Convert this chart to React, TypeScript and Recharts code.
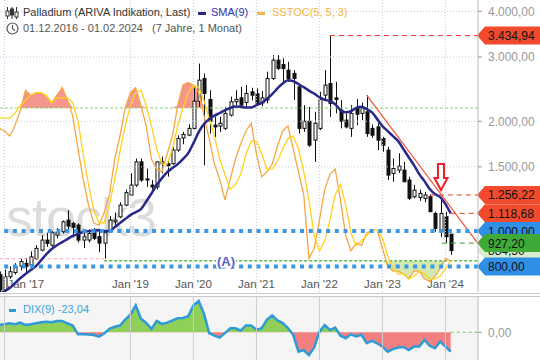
import React from "react";
import {
  ComposedChart,
  Bar,
  Line,
  Area,
  XAxis,
  YAxis,
  ReferenceLine,
  ReferenceDot,
} from "recharts";

const FONT = '"Liberation Sans", Arial, sans-serif';
const PLOT_RIGHT = 478;
const X_DOMAIN: [number, number] = [0.152, 91.2];

// monthly candles, Dec 2016 (0) .. Feb 2024 (86)
const openV = [
  760, 690, 750, 770, 802, 816, 807, 840, 887, 945,
  915, 975, 996, 1072, 1050, 1039, 945, 945, 990, 966,
  927, 996, 1061, 1094, 1178, 1255, 1337, 1548, 1390, 1337,
  1322, 1530, 1530, 1530, 1667, 1800, 1832, 1912, 2270, 2620,
  2295, 1952, 1940, 1912, 2079, 2262, 2318, 2252, 2408, 2380,
  2246, 2290, 2620, 2941, 2860, 2761, 2705, 2485, 1912, 2000,
  1775, 1912, 2358, 2538, 2318, 2145, 2014, 1912, 2170, 2102,
  2122, 1912, 1930, 1793, 1667, 1439, 1469, 1469, 1380, 1242,
  1236, 1229, 1242, 1118, 996, 1095, 981,
];
const highV = [
  775, 785, 800, 817, 840, 845, 880, 915, 975, 990,
  1000, 1020, 1070, 1141, 1061, 1050, 1006, 1010, 1020, 1000,
  1000, 1100, 1125, 1200, 1300, 1441, 1581, 1581, 1484, 1380,
  1548, 1600, 1565, 1702, 1830, 1870, 1960, 2480, 2877, 2705,
  2434, 2057, 2057, 2190, 2335, 2434, 2485, 2512, 2470, 2460,
  2420, 2735, 3035, 3035, 2975, 2910, 2761, 2512, 2214, 2190,
  2122, 2408, 2761, 3434.94, 2565, 2285, 2102, 2214, 2300, 2250,
  2358, 1960, 1975, 1812, 1702, 1581, 1635, 1548, 1409, 1337,
  1300, 1280, 1256.22, 1130, 1240, 1130, 981,
];
const lowV = [
  675, 685, 740, 760, 780, 765, 795, 835, 880, 905,
  905, 955, 985, 996, 960, 930, 899, 930, 945, 875,
  840, 990, 1040, 1085, 1170, 1255, 1322, 1365, 1322, 1300,
  1300, 1440, 1410, 1520, 1650, 1730, 1820, 1900, 2190, 1516,
  1850, 1810, 1870, 1891, 2060, 2214, 2190, 2190, 2280, 2214,
  2200, 2238, 2592, 2761, 2565, 2565, 2285, 1850, 1870, 1702,
  1548, 1891, 2295, 2057, 2102, 1912, 1912, 1812, 1950, 2014,
  1812, 1800, 1667, 1650, 1380, 1365, 1443, 1365, 1216, 1230,
  1210, 1200, 1130, 996, 963, 927.2, 860,
];
const closeV = [
  690, 750, 774, 800, 825, 800, 850, 897, 945, 925,
  990, 990, 1061, 1032, 1024, 945, 965, 985, 955, 927,
  990, 1072, 1072, 1178, 1275, 1337, 1548, 1380, 1380, 1322,
  1548, 1548, 1510, 1667, 1793, 1840, 1912, 2270, 2592, 2383,
  2000, 1930, 1975, 2102, 2262, 2295, 2214, 2383, 2358, 2240,
  2318, 2620, 2941, 2790, 2790, 2620, 2620, 1912, 2000, 1720,
  1975, 2295, 2512, 2238, 2295, 2000, 1930, 2102, 2090, 2170,
  1850, 1832, 1775, 1720, 1424, 1484, 1506, 1365, 1230, 1295,
  1269, 1256, 1130, 1017, 1118, 965, 884.5,
];
const smaV = [
  672, 684, 698, 720, 743, 763, 782, 802, 833, 865,
  893, 915, 933, 951, 970, 982, 994, 1000, 1003, 1006,
  1000, 1000, 1025, 1052, 1079, 1106, 1127, 1149, 1205, 1268,
  1337, 1397, 1451, 1488, 1526, 1575, 1636, 1742, 1868, 1964,
  2027, 2072, 2107, 2145, 2175, 2195, 2190, 2180, 2182, 2214,
  2245, 2303, 2373, 2462, 2538, 2592, 2575, 2528, 2480, 2426,
  2380, 2328, 2291, 2270, 2227, 2145, 2116, 2130, 2175, 2190,
  2160, 2116, 2027, 1940, 1880, 1821, 1764, 1677, 1594, 1516,
  1433, 1371, 1304, 1263, 1239, 1186, 1118.68,
];
// SSTOC(5, 5, 3): orange and yellow lines
const stochK = [
  72, 71, 69, 73, 79, 87, 85, 86, 86, 84,
  82, 85, 88, 83, 77, 64, 52, 42, 35, 34,
  39, 46, 60, 69, 80, 86, 88, 81, 73, 60,
  56, 55, 62, 69, 81, 89, 90, 89, 86, 77,
  68, 58, 52, 44, 52, 60, 66, 71, 74, 62,
  53, 55, 58, 65, 71, 73, 64, 55, 46, 21,
  25, 36, 48, 54, 56, 44, 30, 24, 27, 26,
  31, 32, 32, 25, 18, 16, 16, 15, 13, 16,
  16, 13, 12, 14, 17, 21, 20,
];
const stochD = [
  76, 76, 76, 78, 81, 83, 85, 86, 86, 85,
  82, 84, 84, 84, 82, 75, 62, 50, 40, 35,
  35, 42, 52, 63, 73, 81, 86, 87, 81, 73,
  64, 58, 58, 64, 73, 80, 86, 89, 88, 83,
  76, 69, 60, 54, 48, 50, 54, 62, 67, 67,
  62, 56, 56, 59, 64, 68, 69, 64, 55, 44,
  30, 24, 28, 36, 46, 50, 42, 31, 26, 28,
  30, 32, 32, 29, 22, 17, 15, 15, 13, 14,
  16, 15, 13, 13, 14, 17, 20,
];
const dixV = [
  8.7, 9.5, 10.7, 9.5, 11.4, 8.7, 9.5, 10.7, 12, 12.6,
  11.9, 13.4, 13.4, 10.7, 8, -2.4, -2.4, -2.6, -3.2, -5.2,
  -1.5, 4, 6.6, 8, 15, 21, 32, 16, 11, 4,
  13.4, 10, 11.5, 14, 16.8, 17, 19, 32, 37, 22,
  -1, -4, -6.4, -1, 4.7, 4.7, 2, 8, 8, 3,
  5, 15, 20, 14, 11, 5, -3, -23, -21, -27,
  -18, 0.7, 8.5, 2.7, 5.5, -4, -7, -2.4, -5, -3,
  -13, -10.3, -13, -17, -23, -20, -18, -17.5, -21, -17,
  -17, -9, -16, -19, -11, -17, -23.04,
];

const yearTicks = [1, 25, 37, 49, 61, 73, 85];
const yearLabels = ["Jan '17", "Jan '19", "Jan '20", "Jan '21", "Jan '22", "Jan '23", "Jan '24"];
const priceTicks = [1500, 2000, 3000, 4000];

const data = openV.map((o, i) => ({
  i,
  open: o,
  high: highV[i],
  low: lowV[i],
  close: closeV[i],
  sma: smaV[i],
  k: stochK[i],
  d: stochD[i],
  dix: dixV[i],
}));

const fmt = (v: number) => {
  const [a, b] = v.toFixed(2).split(".");
  return a.replace(/\B(?=(\d{3})+(?!\d))/g, ".") + "," + b;
};

function Candle(props: any) {
  const { x, y, width, height, payload } = props;
  if (x == null || y == null) return null;
  const lh = Math.log(payload.high);
  const ll = Math.log(payload.low);
  const span = lh - ll || 1;
  const py = (v: number) => y + ((lh - Math.log(v)) / span) * height;
  const cx = Math.round(x + width / 2) + 0.5;
  const up = payload.close >= payload.open;
  const top = py(Math.max(payload.open, payload.close));
  const bot = py(Math.min(payload.open, payload.close));
  return (
    <g>
      <line x1={cx} x2={cx} y1={y} y2={y + height} stroke="#111" strokeWidth={1} />
      <rect
        x={cx - 1.5}
        y={top}
        width={3}
        height={Math.max(bot - top, 1)}
        fill={up ? "#fff" : "#111"}
        stroke="#111"
        strokeWidth={1}
      />
    </g>
  );
}

function PriceTag(props: any) {
  const { viewBox, text, bg } = props;
  const y = viewBox.y;
  const x = PLOT_RIGHT;
  return (
    <g>
      <path
        d={`M${x - 1},${y} L${x + 7},${y - 9} L540,${y - 9} L540,${y + 9} L${x + 7},${y + 9} Z`}
        fill={bg}
      />
      <text x={x + 10} y={y + 4.5} fontSize={12} fill="#111" fontFamily={FONT}>
        {text}
      </text>
    </g>
  );
}

function YearLabel(props: any) {
  const { viewBox, text, first } = props;
  return (
    <text
      x={first ? viewBox.x + 3 : viewBox.x}
      y={288}
      textAnchor={first ? "start" : "middle"}
      fontSize={11.5}
      fill="#555"
      fontFamily={FONT}
    >
      {text}
    </text>
  );
}

function DownArrow(props: any) {
  const { cx, cy } = props;
  const d = `M${cx - 3},${cy - 13} L${cx + 3},${cy - 13} L${cx + 3},${cy + 1} L${cx + 6.5},${cy + 1} L${cx},${cy + 13} L${cx - 6.5},${cy + 1} L${cx - 3},${cy + 1} Z`;
  return <path d={d} fill="#fff" stroke="#e8222a" strokeWidth={2} />;
}

function ALabel(props: any) {
  const { cx, cy } = props;
  return (
    <g>
      <rect x={cx - 10} y={cy - 7} width={20} height={14} fill="#fff" />
      <text x={cx} y={cy + 5} textAnchor="middle" fontSize={13} fontWeight="bold" fill="#5a5fd0" fontFamily={FONT}>
        (A)
      </text>
    </g>
  );
}

const tags = [
  { v: 3434.94, bg: "#f24a2c" },
  { v: 1256.22, bg: "#f24a2c" },
  { v: 1118.68, bg: "#f24a2c" },
  { v: 1000, bg: "#2f8fe6" },
  { v: 884.5, bg: "#d9eccf" },
  { v: 927.2, bg: "#3faa38" },
  { v: 800, bg: "#2f8fe6" },
];

export default function App() {
  return (
    <div style={{ position: "absolute", left: 0, top: 0, width: 540, height: 360, background: "#fff", overflow: "hidden", fontFamily: FONT }}>
      <svg width={0} height={0} style={{ position: "absolute" }}>
        <defs>
          <linearGradient id="dixFill" gradientUnits="userSpaceOnUse" x1={0} y1={0} x2={0} y2={65}>
            <stop offset="0" stopColor="#8fd05a" />
            <stop offset="0.5737" stopColor="#8fd05a" />
            <stop offset="0.5737" stopColor="#f28080" />
            <stop offset="1" stopColor="#f28080" />
          </linearGradient>
        </defs>
      </svg>

      {/* watermark */}
      <div style={{ position: "absolute", left: 6, top: 186, fontSize: 54, color: "#dcdcdc", letterSpacing: -1 }}>stock3</div>

      {/* DIX panel background + separator */}
      <div style={{ position: "absolute", left: 0, top: 297, width: PLOT_RIGHT, height: 63, background: "#f5f5f5" }} />
      <div style={{ position: "absolute", left: 0, top: 293, width: 540, height: 2, borderTop: "1px solid #c8c8c8", borderBottom: "1px solid #c8c8c8" }} />

      <div style={{ position: "absolute", left: 0, top: 0 }}>
        <ComposedChart width={540} height={292} data={data} margin={{ top: 0, right: 0, bottom: 0, left: 0 }}>
          <XAxis dataKey="i" type="number" domain={X_DOMAIN} hide allowDataOverflow />
          <YAxis
            orientation="right"
            width={62}
            scale="log"
            type="number"
            domain={[681, 4298]}
            allowDataOverflow
            ticks={priceTicks}
            interval={0}
            tickFormatter={fmt}
            tick={{ fill: "#999", fontSize: 12, fontFamily: FONT }}
            tickSize={4}
            tickMargin={6}
            axisLine={{ stroke: "#bbb" }}
            tickLine={{ stroke: "#999" }}
          />
          <YAxis yAxisId="st" hide type="number" domain={[7.84, 122.35]} allowDataOverflow />

          {yearTicks.map((t, n) => (
            <ReferenceLine
              key={"v" + t}
              x={t}
              stroke="#c5cde2"
              strokeDasharray="1 2"
              label={<YearLabel text={yearLabels[n]} first={n === 0} />}
            />
          ))}
          {priceTicks.map((t) => (
            <ReferenceLine key={"h" + t} y={t} stroke="#c5cde2" strokeDasharray="1 2" />
          ))}
          <ReferenceLine yAxisId="st" y={80} stroke="#8fd17a" strokeDasharray="3 2" />
          <ReferenceLine
            segment={[{ x: X_DOMAIN[0], y: 840 }, { x: 20, y: 840 }]}
            stroke="#f2a8a8"
            strokeDasharray="3 3"
          />
          <ReferenceLine
            segment={[{ x: 20, y: 830 }, { x: X_DOMAIN[1], y: 830 }]}
            stroke="#5cbb4a"
            strokeWidth={1.5}
            strokeDasharray="3 2"
          />

          <Area
            yAxisId="st"
            type="linear"
            dataKey={(p: any) => [80, Math.max(p.k, 80)]}
            fill="#f2837a"
            fillOpacity={0.85}
            stroke="none"
            isAnimationActive={false}
          />
          <Area
            yAxisId="st"
            type="linear"
            dataKey={(p: any) => [Math.min(p.k, 20), 20]}
            fill="#cfe6a6"
            fillOpacity={0.9}
            stroke="none"
            isAnimationActive={false}
          />
          <Line yAxisId="st" type="linear" dataKey="k" stroke="#f7a647" strokeWidth={1.3} dot={false} isAnimationActive={false} />
          <Line yAxisId="st" type="linear" dataKey="d" stroke="#ffd21c" strokeWidth={1.3} dot={false} isAnimationActive={false} />

          <Bar dataKey={(p: any) => [p.low, p.high]} barSize={4} shape={Candle} isAnimationActive={false} />
          <Line type="monotone" dataKey="sma" stroke="#28288a" strokeWidth={2.5} dot={false} isAnimationActive={false} />

          <ReferenceLine
            segment={[{ x: 70, y: 2358 }, { x: X_DOMAIN[1], y: 924 }]}
            stroke="#f0563a"
            strokeWidth={1.2}
          />
          <ReferenceLine y={1000} stroke="#3b97e6" strokeWidth={4} strokeDasharray="4 4.7" />
          <ReferenceLine y={800} stroke="#3b97e6" strokeWidth={4} strokeDasharray="4 4.7" />

          <ReferenceLine segment={[{ x: 63, y: 3434.94 }, { x: X_DOMAIN[1], y: 3434.94 }]} stroke="#ef3b2a" strokeDasharray="5 4" />
          <ReferenceLine segment={[{ x: 82, y: 1256.22 }, { x: X_DOMAIN[1], y: 1256.22 }]} stroke="#ef3b2a" strokeDasharray="5 4" />
          <ReferenceLine segment={[{ x: 86, y: 1118.68 }, { x: X_DOMAIN[1], y: 1118.68 }]} stroke="#ef3b2a" strokeDasharray="5 4" />
          <ReferenceLine segment={[{ x: 84.3, y: 927.2 }, { x: X_DOMAIN[1], y: 927.2 }]} stroke="#2e9a2e" strokeDasharray="5 4" />

          {tags.map((t) => (
            <ReferenceLine key={"t" + t.v} y={t.v} stroke="none" label={<PriceTag text={fmt(t.v)} bg={t.bg} />} />
          ))}

          <ReferenceDot x={43.2} y={830} r={0} shape={ALabel} />
          <ReferenceDot x={84.15} y={1406} r={0} shape={DownArrow} />
        </ComposedChart>
      </div>

      <div style={{ position: "absolute", left: 0, top: 295 }}>
        <ComposedChart width={540} height={65} data={data} margin={{ top: 2, right: 0, bottom: 0, left: 0 }}>
          <XAxis dataKey="i" type="number" domain={X_DOMAIN} hide allowDataOverflow />
          <YAxis
            orientation="right"
            width={62}
            type="number"
            domain={[-32.9, 41.9]}
            allowDataOverflow
            ticks={[0]}
            interval={0}
            tickFormatter={(v: number) => fmt(v)}
            tick={{ fill: "#999", fontSize: 12, fontFamily: FONT }}
            tickSize={4}
            tickMargin={6}
            axisLine={{ stroke: "#bbb" }}
            tickLine={{ stroke: "#999" }}
          />
          {yearTicks.map((t) => (
            <ReferenceLine key={"dv" + t} x={t} stroke="#cccccc" />
          ))}
          <Area
            type="linear"
            dataKey="dix"
            baseValue={0}
            fill="url(#dixFill)"
            fillOpacity={1}
            stroke="#2e9bd6"
            strokeWidth={2.5}
            isAnimationActive={false}
          />
          <ReferenceLine segment={[{ x: 86, y: 0 }, { x: X_DOMAIN[1], y: 0 }]} stroke="#7cc46a" strokeDasharray="3 3" />
        </ComposedChart>
      </div>

      {/* DIX legend */}
      <div style={{ position: "absolute", left: 9, top: 309, width: 7, height: 3, background: "#2e9bd6" }} />
      <div style={{ position: "absolute", left: 23, top: 303, fontSize: 11, color: "#3ba4dc", whiteSpace: "nowrap" }}>DIX(9) -23,04</div>

      {/* header */}
      <svg style={{ position: "absolute", left: 5, top: 6 }} width={14} height={14}>
        <line x1={2.5} y1={1} x2={2.5} y2={13} stroke="#333" strokeWidth={1} />
        <rect x={1} y={5} width={3} height={5} fill="#fff" stroke="#333" />
        <line x1={7} y1={1} x2={7} y2={13} stroke="#333" strokeWidth={1} />
        <rect x={5.5} y={3} width={3} height={6} fill="#333" stroke="#333" />
        <line x1={11.5} y1={1} x2={11.5} y2={13} stroke="#333" strokeWidth={1} />
        <rect x={10} y={6} width={3} height={5} fill="#fff" stroke="#333" />
      </svg>
      <div style={{ position: "absolute", left: 23, top: 6, fontSize: 11, color: "#333", whiteSpace: "nowrap" }}>
        Palladium (ARIVA Indikation, Last)
      </div>
      <div style={{ position: "absolute", left: 198, top: 12, width: 8, height: 3, background: "#28288a" }} />
      <div style={{ position: "absolute", left: 211, top: 6, fontSize: 11, color: "#3434a8", whiteSpace: "nowrap" }}>SMA(9)</div>
      <div style={{ position: "absolute", left: 257, top: 12, width: 8, height: 3, background: "#f7b44a" }} />
      <div style={{ position: "absolute", left: 272, top: 6, fontSize: 11, color: "#f5b342", whiteSpace: "nowrap" }}>SSTOC(5, 5, 3)</div>

      <svg style={{ position: "absolute", left: 6, top: 22 }} width={13} height={13}>
        <circle cx={6.5} cy={6.5} r={5.5} fill="none" stroke="#555" strokeWidth={1.2} />
        <path d="M6.5 3 L6.5 6.8 L9 8.5" fill="none" stroke="#555" strokeWidth={1.2} />
      </svg>
      <div style={{ position: "absolute", left: 23, top: 22, fontSize: 11, color: "#555", whiteSpace: "nowrap" }}>
        01.12.2016 - 01.02.2024
      </div>
      <div style={{ position: "absolute", left: 152, top: 22, fontSize: 11, color: "#555", whiteSpace: "nowrap" }}>
        (7 Jahre, 1 Monat)
      </div>
    </div>
  );
}
